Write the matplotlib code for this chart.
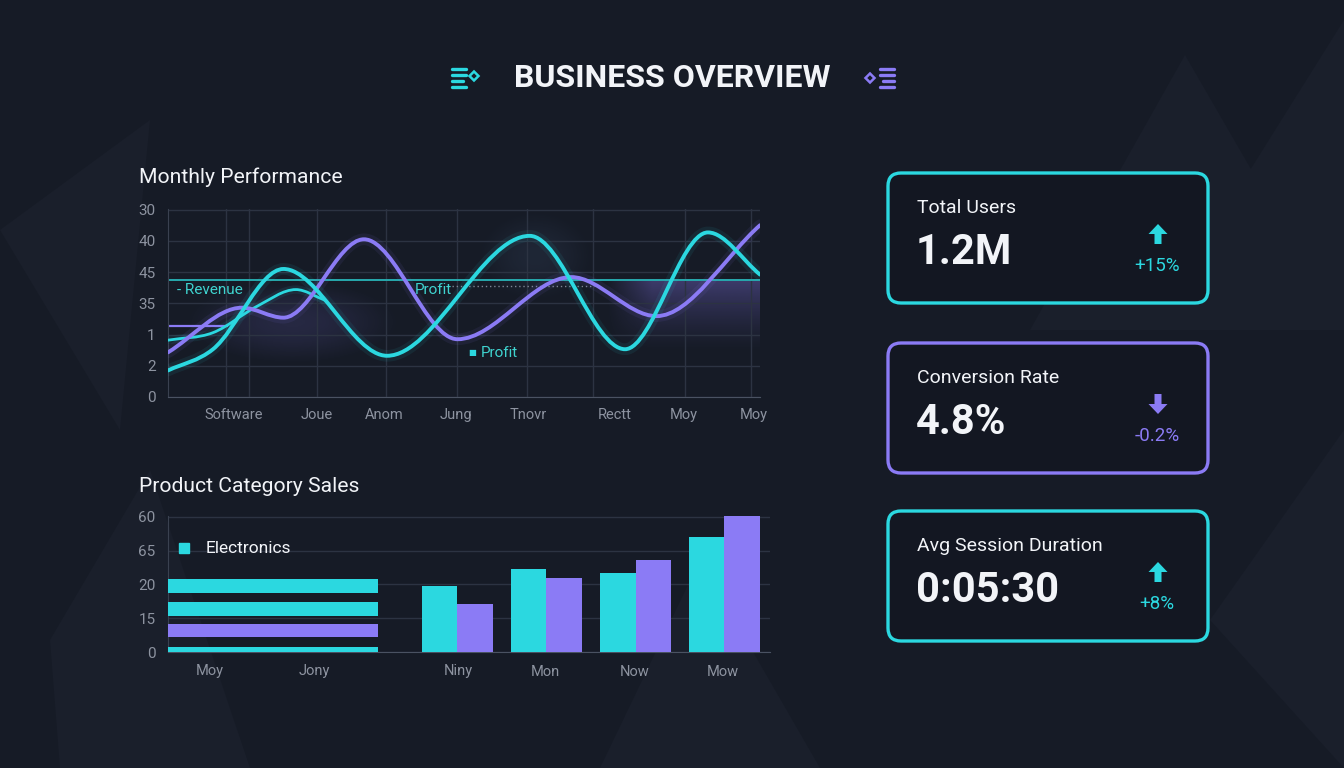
import numpy as np
import matplotlib
matplotlib.use("Agg")
import matplotlib.pyplot as plt
from matplotlib.path import Path
from matplotlib.patches import PathPatch, FancyBboxPatch, Polygon, Rectangle

plt.rcParams['font.family'] = ['Roboto', 'DejaVu Sans']

BG = '#161b26'
CARD = '#131722'
CYAN = '#2bd8e0'
PURPLE = '#8b7bf5'
GRID = '#2c3342'
TICK = '#8d93a0'
WHITE = '#f2f4f8'

# ---- monthly performance (line chart) ----
perf_xlabels = ['Software', 'Joue', 'Anom', 'Jung', 'Tnovr', 'Rectt', 'Moy', 'Moy']
perf_xpos = [11.1, 25.1, 36.6, 48.7, 60.9, 75.5, 87.2, 99.0]
perf_ylabels = ['0', '2', '1', '35', '45', '40', '30']
perf_vgrid = [9.8, 13.7, 25.2, 36.8, 48.9, 60.6, 71.8, 75.5, 87.4, 98.4]

profit_x = [0, 7.6, 19.5, 37.0, 61.1, 77.2, 91.2, 100]
profit_y = [0.85, 1.53, 4.10, 1.32, 5.16, 1.53, 5.27, 3.92]
margin_x = [0, 12.5, 19.5, 33.1, 48.9, 68.1, 82.5, 100]
margin_y = [1.43, 2.86, 2.54, 5.05, 1.85, 3.84, 2.59, 5.50]
revenue_x = [0, 7.6, 15.0, 21.6, 26.5]
revenue_y = [1.82, 2.06, 2.90, 3.44, 3.10]
target_level = 3.74
purple_level = 2.27
dotted_level = 3.55

# ---- product category sales (bar chart) ----
sales_xlabels = ['Moy', 'Jony', 'Niny', 'Mon', 'Now', 'Mow']
sales_xpos = [7.0, 24.7, 49.1, 63.7, 78.8, 93.8]
sales_ylabels = ['0', '15', '20', '65', '60']
band_centers = [1.945, 1.265, 0.63, 0.075]
band_heights = [0.41, 0.41, 0.38, 0.15]
band_lengths = [35.4, 35.4, 35.4, 35.4]
band_colors = [CYAN, CYAN, PURPLE, CYAN]
group_centers = [48.9, 63.9, 79.0, 94.0]
electronics = [1.94, 2.44, 2.33, 3.39]
other_cat = [1.42, 2.18, 2.72, 4.02]

# ---- KPI cards ----
kpi_labels = ['Total Users', 'Conversion Rate', 'Avg Session Duration']
kpi_values = ['1.2M', '4.8%', '0:05:30']
kpi_changes = ['+15%', '-0.2%', '+8%']
kpi_up = [True, False, True]
kpi_colors = [CYAN, PURPLE, CYAN]


def smooth_path(xs, ys):
    xs = np.asarray(xs, float)
    ys = np.asarray(ys, float)
    n = len(xs)
    d = np.diff(ys) / np.diff(xs)
    m = np.zeros(n)
    m[0], m[-1] = d[0], d[-1]
    for i in range(1, n - 1):
        m[i] = 0 if d[i - 1] * d[i] <= 0 else (d[i - 1] + d[i]) / 2
    verts = [(xs[0], ys[0])]
    codes = [Path.MOVETO]
    for i in range(n - 1):
        h = xs[i + 1] - xs[i]
        verts += [(xs[i] + h / 3, ys[i] + m[i] * h / 3),
                  (xs[i + 1] - h / 3, ys[i + 1] - m[i + 1] * h / 3),
                  (xs[i + 1], ys[i + 1])]
        codes += [Path.CURVE4] * 3
    return Path(verts, codes)


def glow(ax, extent, color, alpha, fade_left=True, radial=False):
    # soft purple haze: fades downward, and in from the left edge
    ny, nx = 80, 120
    yy = np.linspace(1, 0, ny)[:, None]
    xx = np.linspace(0, 1, nx)[None, :]
    if radial:
        r2 = ((xx - 0.5) / 0.5) ** 2 + ((yy - 0.5) / 0.5) ** 2
        a = np.clip(1 - r2, 0, 1) ** 1.5
    else:
        a = yy ** 1.3 * (np.clip(xx / 0.3, 0, 1) if fade_left else 1)
    rgba = np.zeros((ny, nx, 4))
    rgba[..., :3] = matplotlib.colors.to_rgb(color)
    rgba[..., 3] = alpha * a
    ax.imshow(rgba, extent=extent, aspect='auto', origin='upper',
              interpolation='bilinear', zorder=0)


fig = plt.figure(figsize=(13.44, 7.68), dpi=100)
fig.patch.set_facecolor(BG)

# decoration layer in pixel coords
deco = fig.add_axes([0, 0, 1, 1], zorder=0)
deco.set_xlim(0, 1344)
deco.set_ylim(768, 0)
deco.axis('off')

for pts in [[(1030, 330), (1185, 55), (1344, 330)],
            [(1150, 330), (1344, 20), (1344, 330)],
            [(0, 230), (150, 120), (120, 430)],
            [(50, 640), (150, 470), (250, 768), (60, 768)],
            [(600, 768), (700, 560), (820, 768)],
            [(1210, 620), (1344, 430), (1344, 768)]]:
    deco.add_patch(Polygon(pts, closed=True, facecolor='#1a1f2b', edgecolor='none', zorder=0))

# title + icons
deco.text(672, 78, 'BUSINESS OVERVIEW', color=WHITE, fontsize=23, fontweight='bold',
          ha='center', va='center')
for yy, ln in zip([69, 75, 81, 87], [14, 14, 11, 14]):
    deco.plot([452, 452 + ln], [yy, yy], color=CYAN, lw=2.4, solid_capstyle='round')
    deco.plot([894 - ln, 894], [yy, yy], color=PURPLE, lw=2.4, solid_capstyle='round')
deco.add_patch(Polygon([(474, 71.5), (478.5, 76), (474, 80.5), (469.5, 76)], closed=True,
                       facecolor='none', edgecolor=CYAN, lw=1.8))
deco.add_patch(Polygon([(870, 73.5), (874.5, 78), (870, 82.5), (865.5, 78)], closed=True,
                       facecolor='none', edgecolor=PURPLE, lw=1.8))

# section titles
deco.text(139, 177, 'Monthly Performance', color=WHITE, fontsize=15.2, va='center')
deco.text(139, 486, 'Product Category Sales', color=WHITE, fontsize=15.2, va='center')

# KPI cards
card_tops = [173, 343, 511]
for top, lab, val, chg, up, col in zip(card_tops, kpi_labels, kpi_values,
                                       kpi_changes, kpi_up, kpi_colors):
    deco.add_patch(FancyBboxPatch((888, top), 320, 130,
                                  boxstyle='round,pad=0,rounding_size=13',
                                  facecolor=CARD, edgecolor=col, lw=2.4, zorder=2))
    deco.text(917, top + 35, lab, color=WHITE, fontsize=14, va='center', zorder=3)
    deco.text(916, top + 79, val, color=WHITE, fontsize=30, fontweight='bold',
              va='center', zorder=3)
    cx, cy = 1158, top + 61
    s = -1 if up else 1
    arrow = [(cx - 3.5, cy - s * 10), (cx + 3.5, cy - s * 10), (cx + 3.5, cy),
             (cx + 9.5, cy), (cx, cy + s * 10), (cx - 9.5, cy), (cx - 3.5, cy)]
    deco.add_patch(Polygon(arrow, closed=True, facecolor=col, edgecolor='none', zorder=3))
    deco.text(1157, top + 93, chg, color=col, fontsize=13.5, ha='center', va='center', zorder=3)

# ---- line chart ----
ax1 = fig.add_axes([168 / 1344, 1 - 397 / 768, 592 / 1344, 188 / 768], zorder=1)
ax1.set_facecolor('none')
glow(ax1, [74, 100, 1.4, target_level], PURPLE, 0.34)
glow(ax1, [2, 40, 1.0, 3.8], PURPLE, 0.14, radial=True)
glow(ax1, [52, 72, 3.0, 6.0], '#3a4a66', 0.25, radial=True)
ax1.set_xlim(0, 100)
ax1.set_ylim(0, 6.02)
ax1.set_yticks(range(len(perf_ylabels)))
ax1.set_yticklabels(perf_ylabels)
ax1.set_xticks(perf_xpos)
ax1.set_xticklabels(perf_xlabels)
ax1.set_xticks(perf_vgrid, minor=True)
ax1.tick_params(which='both', length=0)
ax1.tick_params(axis='x', pad=8, labelsize=10.5, colors=TICK)
ax1.tick_params(axis='y', pad=9, labelsize=11, colors=TICK)
ax1.grid(True, axis='y', color=GRID, lw=1)
ax1.grid(True, axis='x', which='minor', color=GRID, lw=1)
for sp in ['top', 'right']:
    ax1.spines[sp].set_visible(False)
ax1.spines['left'].set_color('#3a4150')
ax1.spines['bottom'].set_color('#4a5262')

ax1.axhline(target_level, color='#27a9ad', lw=1.4, zorder=2)
ax1.plot([0, 10], [purple_level, purple_level], color=PURPLE, lw=1.6, zorder=2)
ax1.plot([48, 72], [dotted_level, dotted_level], color='#7d8594', lw=1, ls=(0, (1, 2)), zorder=2)

for xs, ys, col, lw in [(revenue_x, revenue_y, CYAN, 2.0),
                        (margin_x, margin_y, PURPLE, 2.8),
                        (profit_x, profit_y, CYAN, 2.8)]:
    p = smooth_path(xs, ys)
    ax1.add_patch(PathPatch(p, facecolor='none', edgecolor=col, lw=lw * 3, alpha=0.08,
                            capstyle='round', zorder=3))
    ax1.add_patch(PathPatch(p, facecolor='none', edgecolor=col, lw=lw,
                            capstyle='round', zorder=4))

ax1.text(1.6, 3.44, '- Revenue', color='#3fd3cf', fontsize=11, va='center', zorder=5)
ax1.text(41.7, 3.44, 'Profit', color='#3fd3cf', fontsize=11, va='center', zorder=5)
ax1.text(50.8, 1.41, '■', color=CYAN, fontsize=6, va='center', zorder=5)
ax1.text(52.8, 1.41, 'Profit', color='#3fd3cf', fontsize=11, va='center', zorder=5)

# ---- bar chart ----
ax2 = fig.add_axes([168 / 1344, 1 - 652 / 768, 602 / 1344, 136 / 768], zorder=1)
ax2.set_facecolor('none')
ax2.barh(band_centers, band_lengths, height=band_heights, left=0, color=band_colors, zorder=3)
gc = np.array(group_centers)
ax2.bar(gc - 3.0, electronics, width=6.0, color=CYAN, zorder=3)
ax2.bar(gc + 3.0, other_cat, width=6.0, color=PURPLE, zorder=3)
ax2.set_xlim(0, 101.7)
ax2.set_ylim(0, 4.02)
ax2.set_yticks(range(len(sales_ylabels)))
ax2.set_yticklabels(sales_ylabels)
ax2.set_xticks(sales_xpos)
ax2.set_xticklabels(sales_xlabels)
ax2.tick_params(length=0)
ax2.tick_params(axis='x', pad=9, labelsize=10.5, colors=TICK)
ax2.tick_params(axis='y', pad=9, labelsize=11, colors=TICK)
ax2.grid(True, axis='y', color=GRID, lw=1)
ax2.grid(False, axis='x')
for sp in ['top', 'right']:
    ax2.spines[sp].set_visible(False)
ax2.spines['left'].set_color('#3a4150')
ax2.spines['bottom'].set_color('#4a5262')
ax2.add_patch(Rectangle((1.9, 2.93), 1.7, 0.3, color=CYAN, zorder=4))
ax2.text(6.4, 3.07, 'Electronics', color=WHITE, fontsize=12.5, va='center', zorder=4)

fig.savefig('out.png', dpi=100, facecolor=BG)
